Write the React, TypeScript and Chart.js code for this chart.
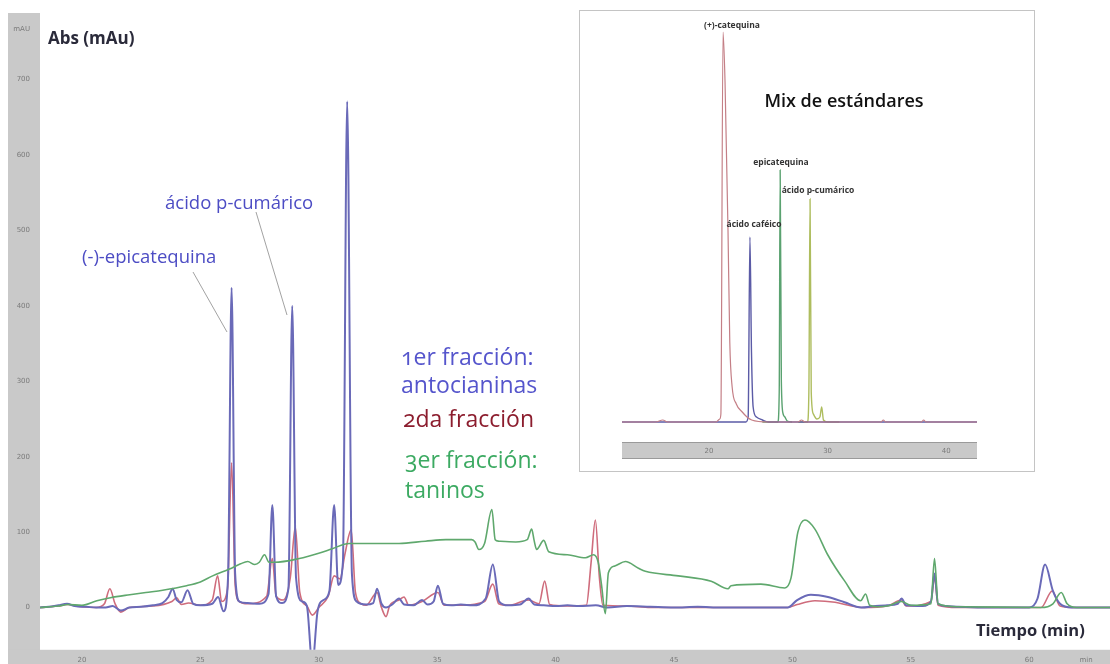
import React, { useEffect, useRef } from "react";
import { Chart, registerables } from "chart.js";
Chart.register(...registerables);

// ---- Main chromatogram data: [time (min), absorbance (mAU)] ----
const fraccion1: [number, number][] = [
  [18.2, 0], [18.6, 1], [19.0, 3], [19.37, 5], [19.7, 2], [20.2, 1], [20.6, 0], [21.0, 0], [21.3, 2], [21.64, -4],
  [22.0, 0], [22.5, 1], [23.0, 3], [23.4, 6], [23.65, 14], [23.83, 25], [24.0, 10], [24.2, 7], [24.46, 23], [24.7, 5],
  [25.0, 3], [25.5, 5], [25.75, 14], [25.98, -5], [26.17, 40], [26.32, 424], [26.47, 45], [26.65, 8], [27.0, 6], [27.5, 5],
  [27.88, 18], [28.04, 136], [28.2, 15], [28.45, 6], [28.72, 25], [28.88, 400], [29.04, 40], [29.3, 8], [29.5, 2], [29.73, -75],
  [29.95, -5], [30.2, 10], [30.45, 22], [30.65, 136], [30.82, 30], [31.02, 60], [31.2, 671], [31.4, 45], [31.6, 8], [32.0, 4],
  [32.3, 6], [32.46, 25], [32.65, 5], [32.84, 0], [33.1, 4], [33.39, 12], [33.6, 4], [34.0, 3], [34.36, 10], [34.6, 4],
  [34.85, 8], [35.03, 29], [35.25, 5], [35.6, 3], [36.0, 4], [36.5, 3], [37.05, 12], [37.35, 57], [37.62, 8], [38.0, 3],
  [38.5, 4], [38.86, 12], [39.1, 4], [39.5, 3], [40.0, 2], [40.5, 3], [41.0, 2], [41.7, 3], [42.2, 0], [43.0, 2],
  [44.0, 1], [45.0, 0], [46.0, 1], [47.0, 0], [48.0, 0], [49.0, 0], [49.8, 0], [50.2, 10], [50.78, 17], [51.5, 14],
  [52.2, 7], [52.9, 0], [53.5, 2], [54.0, 3], [54.45, 5], [54.61, 12], [54.8, 3], [55.5, 2], [55.85, 8], [56.0, 45],
  [56.15, 5], [56.5, 2], [57.0, 1], [58.0, 0], [59.0, 0], [60.0, 0], [60.35, 12], [60.67, 57], [61.0, 22], [61.3, 5],
  [61.8, 0], [62.5, 0], [63.5, 0],
];

const fraccion2: [number, number][] = [
  [18.2, 0], [19.0, 2], [19.37, 4], [20.0, 1], [20.6, 0], [20.95, 5], [21.18, 25], [21.4, 5], [21.64, -6], [22.0, 0],
  [23.0, 2], [23.8, 8], [24.0, 13], [24.2, 4], [24.5, 6], [25.0, 3], [25.5, 10], [25.73, 42], [25.9, 8], [26.15, 25],
  [26.32, 192], [26.47, 30], [26.65, 8], [27.0, 5], [27.8, 15], [28.04, 65], [28.2, 15], [28.5, 10], [28.8, 40], [29.01, 107],
  [29.2, 20], [29.5, 2], [29.73, -10], [30.0, 0], [30.4, 15], [30.65, 42], [30.9, 38], [31.1, 70], [31.37, 103], [31.55, 20],
  [31.8, 5], [32.0, 3], [32.46, 20], [32.65, 0], [32.84, -12], [33.0, 3], [33.39, 10], [33.6, 14], [33.8, 3], [34.36, 8],
  [35.03, 20], [35.3, 3], [36.0, 3], [37.0, 8], [37.35, 31], [37.6, 5], [38.0, 3], [38.86, 10], [39.3, 5], [39.54, 35],
  [39.75, 4], [40.5, 2], [41.3, 3], [41.5, 60], [41.68, 116], [41.85, 40], [42.0, 3], [43.0, 2], [44.0, 0], [49.8, 0],
  [50.2, 4], [50.95, 9], [51.8, 7], [52.5, 2], [53.0, 0], [54.0, 2], [54.61, 10], [54.8, 2], [55.85, 8], [56.0, 40],
  [56.15, 3], [57.0, 0], [60.5, 0], [60.97, 22], [61.3, 2], [62.0, 0], [63.5, 0],
];

const fraccion3: [number, number][] = [
  [18.2, 0], [19.0, 2], [19.4, 4], [20.0, 3], [20.63, 9], [21.2, 13], [22.02, 17], [22.7, 20], [23.41, 23], [24.42, 29],
  [25.0, 34], [25.52, 42], [26.23, 51], [26.7, 58], [27.0, 61], [27.3, 57], [27.49, 60], [27.71, 70], [27.9, 60], [28.13, 60],
  [29.18, 65], [30.0, 72], [30.57, 78], [31.28, 85], [32.0, 85], [33.39, 85], [34.5, 88], [35.37, 90], [36.46, 90], [36.6, 87],
  [36.76, 77], [37.0, 85], [37.31, 130], [37.45, 90], [37.6, 88], [38.32, 87], [38.8, 90], [38.99, 104], [39.1, 88], [39.2, 77],
  [39.5, 89], [39.71, 74], [40.5, 70], [41.26, 66], [41.6, 70], [41.8, 60], [41.94, 30], [42.1, -8], [42.23, 46], [42.5, 55],
  [42.95, 61], [43.5, 52], [43.79, 48], [45.18, 42], [46.57, 35], [47.28, 25], [47.41, 29], [48.67, 31], [49.68, 26], [49.94, 39],
  [50.23, 100], [50.53, 116], [50.95, 104], [51.49, 70], [52.21, 35], [52.88, 9], [53.09, 18], [53.26, 3], [53.6, 1], [54.0, 2],
  [54.61, 8], [55.0, 3], [55.85, 5], [56.0, 65], [56.15, 5], [57.0, 1], [60.5, 0], [61.0, 5], [61.35, 20], [61.6, 5],
  [62.0, 0], [63.5, 0],
];

const yTickValues = [0, 100, 200, 300, 400, 500, 600, 700];
const yUnitTick = 767;
const yUnitLabel = "mAU";
const xTickValues = [20, 25, 30, 35, 40, 45, 50, 55, 60];
const xUnitTick = 62.4;
const xUnitLabel = "min";

// ---- Inset: mix of standards ----
const stdCatequina: [number, number][] = [
  [12.6, 0], [15.5, 0], [16.1, 2], [16.5, 0], [20.6, 0], [20.9, 3], [21.0, 8], [21.18, 390], [21.35, 340], [21.6, 192],
  [21.75, 80], [21.95, 35], [22.3, 18], [22.8, 10], [23.2, 5], [23.6, 2], [25.0, 0], [27.5, 0], [27.8, 2], [28.1, 0], [34.5, 0],
  [34.7, 2], [34.9, 0], [37.9, 0], [38.1, 2], [38.3, 0], [42.7, 0],
];
const stdCafeico: [number, number][] = [
  [12.6, 0], [23.1, 0], [23.3, 5], [23.45, 185], [23.58, 70], [23.72, 15], [24.0, 5], [24.5, 2], [25.0, 0], [42.7, 0],
];
const stdEpicatequina: [number, number][] = [
  [24.5, 0], [25.8, 0], [25.92, 30], [26.0, 252], [26.1, 40], [26.25, 8], [26.4, 5], [26.6, 1], [27.0, 0],
];
const stdCumarico: [number, number][] = [
  [27.5, 0], [28.3, 0], [28.42, 30], [28.52, 223], [28.62, 30], [28.8, 8], [29.1, 3], [29.35, 5], [29.5, 15], [29.65, 2],
  [30.0, 0], [31.0, 0],
];
const insetTickValues = [20, 30, 40];

const toPts = (arr: [number, number][]) => arr.map(([x, y]) => ({ x, y }));

const mainBands = {
  id: "mainBands",
  beforeDraw(chart: any) {
    const { ctx, chartArea, width, height } = chart;
    ctx.save();
    ctx.fillStyle = "#c9c9c9";
    ctx.fillRect(0, 5, chartArea.left, height - 5);
    ctx.fillRect(0, chartArea.bottom, width, height - chartArea.bottom);
    ctx.restore();
  },
};

const insetBands = {
  id: "insetBands",
  beforeDraw(chart: any) {
    const { ctx } = chart;
    const x = chart.scales.x;
    ctx.save();
    ctx.fillStyle = "#c9c9c9";
    ctx.fillRect(x.left, x.top + 2, x.right - x.left, 17);
    ctx.strokeStyle = "#9a9a9a";
    ctx.lineWidth = 1;
    ctx.beginPath();
    ctx.moveTo(x.left, x.top + 2.5);
    ctx.lineTo(x.right, x.top + 2.5);
    ctx.moveTo(x.left, x.top + 18.5);
    ctx.lineTo(x.right, x.top + 18.5);
    ctx.stroke();
    ctx.restore();
  },
};

const FONT = "'Open Sans', Lato, sans-serif";

const lbl = (
  text: string,
  left: number,
  cy: number,
  size: number,
  color: string,
  weight: number | string = 400,
  center = false
) => (
  <div
    key={text + left}
    style={{
      position: "absolute",
      left,
      top: cy - size * 0.68,
      fontSize: size,
      lineHeight: "1.36",
      color,
      fontWeight: weight as any,
      fontFamily: FONT,
      fontVariantNumeric: "oldstyle-nums",
      whiteSpace: "nowrap",
      transform: center ? "translateX(-50%)" : undefined,
    }}
  >
    {text}
  </div>
);

export default function App() {
  const mainRef = useRef<HTMLCanvasElement>(null);
  const insetRef = useRef<HTMLCanvasElement>(null);

  useEffect(() => {
    const common = {
      pointRadius: 0,
      fill: false,
      cubicInterpolationMode: "monotone" as const,
    };
    const main = new Chart(mainRef.current!, {
      type: "line",
      data: {
        datasets: [
          { label: "3er fracción", data: toPts(fraccion3), borderColor: "#5fa86d", borderWidth: 1.6, ...common },
          { label: "1er fracción", data: toPts(fraccion1), borderColor: "#6a6ab8", borderWidth: 2, ...common },
          { label: "2da fracción", data: toPts(fraccion2), borderColor: "#cf6c7c", borderWidth: 1.6, ...common },
        ],
      },
      options: {
        animation: false,
        responsive: false,
        maintainAspectRatio: false,
        layout: { padding: { top: 4, left: 0, right: 0, bottom: 0 } },
        plugins: { legend: { display: false }, tooltip: { enabled: false } },
        scales: {
          x: {
            type: "linear",
            min: 18.23,
            max: 63.41,
            grid: { display: false, drawTicks: false },
            border: { display: false },
            afterBuildTicks: (s: any) => {
              s.ticks = [...xTickValues, xUnitTick].map((v) => ({ value: v }));
            },
            afterFit: (s: any) => {
              s.height = 14;
            },
            ticks: {
              autoSkip: false,
              maxRotation: 0,
              padding: 6,
              color: "#7a7a7a",
              font: { size: 7, family: "DejaVu Sans" },
              callback: (v: any) => (v === xUnitTick ? xUnitLabel : String(v)),
            },
          },
          y: {
            type: "linear",
            min: -56,
            max: 776,
            grid: { display: false, drawTicks: false },
            border: { display: false },
            afterBuildTicks: (s: any) => {
              s.ticks = [...yTickValues, yUnitTick].map((v) => ({ value: v }));
            },
            afterFit: (s: any) => {
              s.width = 32;
            },
            ticks: {
              autoSkip: false,
              padding: 10,
              color: "#7a7a7a",
              font: { size: 7, family: "DejaVu Sans" },
              callback: (v: any) => (v === yUnitTick ? yUnitLabel : String(v)),
            },
          },
        },
      },
      plugins: [mainBands],
    });

    const inset = new Chart(insetRef.current!, {
      type: "line",
      data: {
        datasets: [
          { label: "(+)-catequina", data: toPts(stdCatequina), borderColor: "#c47f86", borderWidth: 1.2, ...common },
          { label: "ácido caféico", data: toPts(stdCafeico), borderColor: "#5b5ba6", borderWidth: 1.4, ...common },
          { label: "epicatequina", data: toPts(stdEpicatequina), borderColor: "#5aa270", borderWidth: 1.4, ...common },
          { label: "ácido p-cumárico", data: toPts(stdCumarico), borderColor: "#aebd5e", borderWidth: 1.4, ...common },
        ],
      },
      options: {
        animation: false,
        responsive: false,
        maintainAspectRatio: false,
        layout: { padding: { top: 15, left: 42, right: 57, bottom: 11 } },
        plugins: { legend: { display: false }, tooltip: { enabled: false } },
        scales: {
          x: {
            type: "linear",
            min: 12.66,
            max: 42.6,
            grid: { display: false, drawTicks: false },
            border: { display: false },
            afterBuildTicks: (s: any) => {
              s.ticks = insetTickValues.map((v) => ({ value: v }));
            },
            afterFit: (s: any) => {
              s.height = 20;
            },
            ticks: {
              autoSkip: false,
              maxRotation: 0,
              padding: 7,
              color: "#7a7a7a",
              font: { size: 7, family: "DejaVu Sans" },
            },
          },
          y: { display: false, min: -18, max: 396 },
        },
      },
      plugins: [insetBands],
    });

    return () => {
      main.destroy();
      inset.destroy();
    };
  }, []);

  const blue = "#4c4cc4";
  return (
    <div
      style={{
        position: "fixed",
        left: 0,
        top: 0,
        width: 1110,
        height: 664,
        background: "#fff",
        overflow: "hidden",
      }}
    >
      <canvas
        ref={mainRef}
        width={1102}
        height={656}
        style={{ position: "absolute", left: 8, top: 8, width: 1102, height: 656 }}
      />
      {lbl("Abs (mAu)", 48, 38, 17, "#2a2a3a", 700)}
      {lbl("ácido p-cumárico", 165, 202, 18.5, blue)}
      {lbl("(-)-epicatequina", 82, 256, 18.5, blue)}
      <svg
        width={1110}
        height={664}
        style={{ position: "absolute", left: 0, top: 0, pointerEvents: "none" }}
      >
        <line x1={193} y1={272} x2={227} y2={332} stroke="#8a8a8a" strokeWidth={0.8} />
        <line x1={256} y1={212} x2={287} y2={315} stroke="#8a8a8a" strokeWidth={0.8} />
      </svg>
      {lbl("1er fracción:", 401, 357, 23, "#5555cc")}
      {lbl("antocianinas", 401, 385, 23, "#5555cc")}
      {lbl("2da fracción", 403, 419, 23, "#8c1d2e")}
      {lbl("3er fracción:", 405, 460, 23, "#3caa62")}
      {lbl("taninos", 405, 490, 23, "#3caa62")}
      {lbl("Tiempo (min)", 976, 630, 16.5, "#2a2a3a", 700)}

      <div
        style={{
          position: "absolute",
          left: 579,
          top: 10,
          width: 456,
          height: 462,
          boxSizing: "border-box",
          border: "1px solid #c4c4c4",
          background: "#fff",
        }}
      >
        <canvas ref={insetRef} width={454} height={460} style={{ width: 454, height: 460, display: "block" }} />
      </div>
      {lbl("(+)-catequina", 732, 25, 8.5, "#333", 700, true)}
      {lbl("Mix de estándares", 844, 100, 18, "#111", 600, true)}
      {lbl("epicatequina", 781, 162, 8.5, "#333", 700, true)}
      {lbl("ácido p-cumárico", 818, 190, 8.5, "#333", 700, true)}
      {lbl("ácido caféico", 754, 224, 8.5, "#333", 700, true)}
    </div>
  );
}
